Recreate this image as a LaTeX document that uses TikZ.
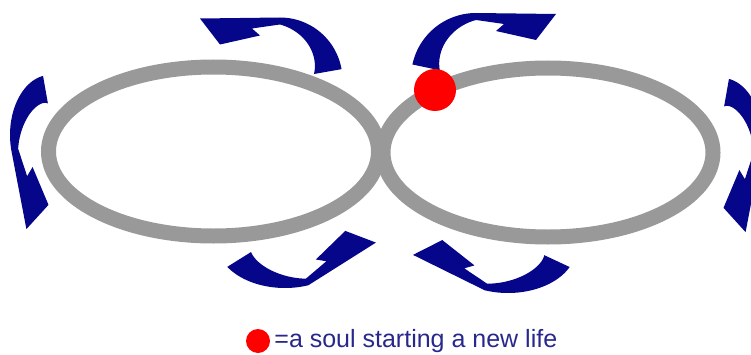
\documentclass[tikz,border=0pt]{standalone}
\usepackage{fontspec}
\setmainfont{Liberation Sans}
\usetikzlibrary{positioning}

\definecolor{soulred}{RGB}{255,0,0}
\definecolor{ringgray}{RGB}{153,153,153}
\definecolor{turnblue}{RGB}{6,6,138}
\definecolor{captionblue}{RGB}{40,40,140}

% ribbon arrow on an ellipse: options, x radius, y radius, tail angle, neck angle, head turn
\newcommand{\soularrow}[6]{%
  \begin{scope}[#1]
    \pgfmathsetmacro\neckx{#2*cos(#5)}
    \pgfmathsetmacro\necky{#3*sin(#5)}
    \pgfmathsetmacro\headdir{atan2(#3*cos(#5),-#2*sin(#5))+#6}
    \coordinate (tip)   at ({\neckx+80*cos(\headdir)-1*sin(\headdir)},{\necky+80*sin(\headdir)+1*cos(\headdir)});
    \coordinate (wing)  at ({\neckx+60*cos(\headdir)-27*sin(\headdir)},{\necky+60*sin(\headdir)+27*cos(\headdir)});
    \coordinate (barb)  at ({\neckx+20*cos(\headdir)-18*sin(\headdir)},{\necky+20*sin(\headdir)+18*cos(\headdir)});
    \coordinate (notch) at ({\neckx+28*cos(\headdir)-11*sin(\headdir)},{\necky+28*sin(\headdir)+11*cos(\headdir)});
    \fill[turnblue] plot[domain=#4:#5,samples=30] ({#2*cos(\x)},{#3*sin(\x)})
      -- (tip) -- (wing) -- (barb) -- (notch)
      -- plot[domain=#5:#4,samples=30]
         ({(#2-28+21*(\x-#4)/(#5-#4))*cos(\x)},{(#3-28+21*(\x-#4)/(#5-#4))*sin(\x)})
      -- cycle;
  \end{scope}}

\begin{document}
\begin{tikzpicture}[x=1pt,y=1pt,
  ring/.style={draw=ringgray,line width=15pt},
  soul dot/.style={circle,fill=soulred,inner sep=0pt},
  caption/.style={font=\fontsize{25}{30}\selectfont,text=captionblue,inner sep=0pt}]
\useasboundingbox (0,0) rectangle (751,354);
\clip (0,0) rectangle (751,354);
% the two rings
\draw[ring] (213.5,202.5) ellipse [x radius=165pt,y radius=84.5pt];
\draw[ring] (548,201.5) ellipse [x radius=165pt,y radius=84.5pt];
% turning arrows
\soularrow{shift={(280,274)}}{62.5}{62.5}{10}{90}{0}
\soularrow{shift={(476,276)},xscale=-1}{65}{65}{12}{90}{0}
\soularrow{shift={(50,219)},rotate=90}{60}{40}{10}{105}{0}
\soularrow{shift={(722,216)},xscale=-1,rotate=90}{60}{40}{10}{105}{0}
\soularrow{shift={(285,111)}}{68}{45}{212}{290}{18}
\soularrow{shift={(508,106)},xscale=-1}{68}{45}{205}{290}{12}
% the soul
\node[soul dot,minimum size=42pt] (soul) at (435,264) {};
% legend
\node[soul dot,minimum size=24pt] (keydot) at (258,13) {};
\node[caption,right=4pt of keydot] (keytext) {=a soul starting a new life};
\end{tikzpicture}
\end{document}
